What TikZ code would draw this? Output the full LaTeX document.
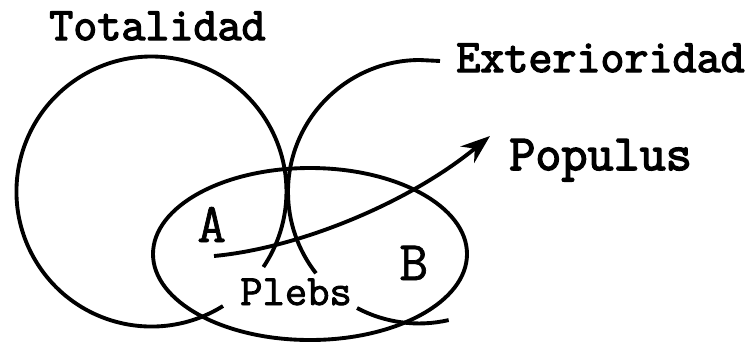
\documentclass[tikz,border=0pt]{standalone}
\usepackage{fontspec}
\newfontfamily\typefont[FakeBold=3]{Latin Modern Mono}
\newfontfamily\midfont[FakeBold=2]{Latin Modern Mono}
\newfontfamily\thinfont[FakeBold=1.2]{Latin Modern Mono}
\usetikzlibrary{arrows.meta, positioning}

\begin{document}
\begin{tikzpicture}[
    x=0.75pt, y=-0.75pt,
    >={Stealth[length=22pt, width=16pt]},
    every node/.style={font=\typefont\fontsize{35}{38}\selectfont, inner sep=0pt, anchor=base west},
    ring/.style={line width=2.9pt},
    letter/.style={font=\thinfont\fontsize{42}{44}\selectfont},
]
\useasboundingbox (0,0) rectangle (752,344);
% the two worlds and the people between them
\draw[ring] (223,306) arc[start angle=58, end angle=394, radius=135];
\draw[ring] (440,61) -- (420,60) arc[start angle=270, end angle=142, radius=132];
\draw[ring] (357,308) arc[start angle=118, end angle=77, radius=132];
\draw[ring] (310,254) ellipse[x radius=157, y radius=86];
% labels
\node (totalidad) at (49,40) {Totalidad};
\node (exterioridad) at (456,72) {Exterioridad};
\node[font=\typefont\fontsize{38}{40}\selectfont] (populus) at (509,170) {Populus};
\node[font=\midfont\fontsize{32.5}{34}\selectfont] (plebs) at (240,305) {Plebs};
\node[letter] (labA) at (197,242) {A};
\node[letter] (labB) at (399,280) {B};
% passage from A out to the populus
\coordinate (from) at (214,256);
\coordinate (to) at (490,136);
\draw[ring, ->] (from) .. controls (300,248) and (410,202) .. (to);
\end{tikzpicture}
\end{document}
